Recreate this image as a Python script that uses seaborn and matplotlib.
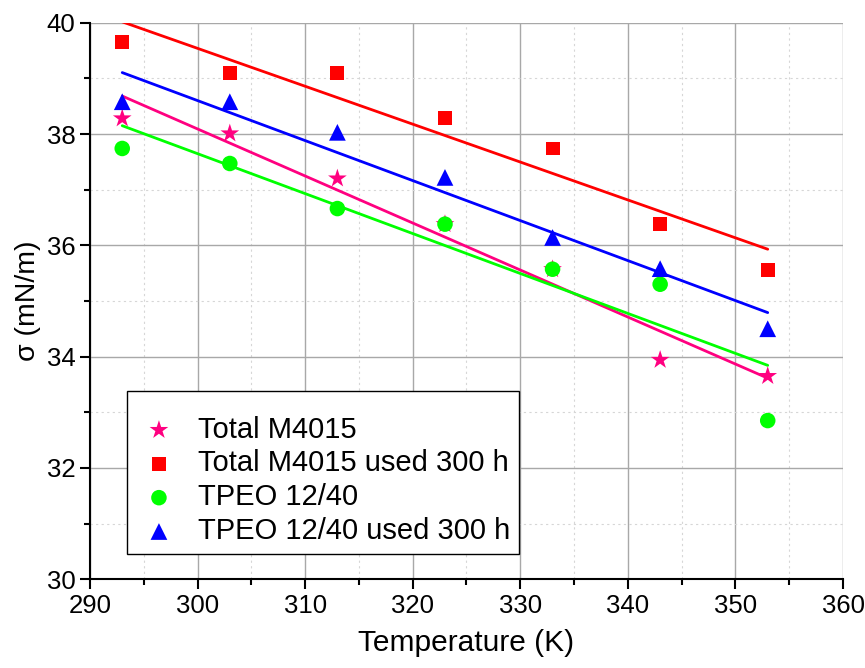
import numpy as np
import pandas as pd
import seaborn as sns
from matplotlib import pyplot as plt
from matplotlib.ticker import MultipleLocator

# values
temperature = [293, 303, 313, 323, 333, 343, 353]
total_m4015 = [38.28, 38.01, 37.20, 36.38, 35.57, 33.94, 33.65]
total_m4015_used = [39.65, 39.10, 39.10, 38.28, 37.74, 36.38, 35.56]
tpeo = [37.74, 37.47, 36.66, 36.38, 35.57, 35.30, 32.85]
tpeo_used = [38.58, 38.58, 38.03, 37.22, 36.14, 35.58, 34.50]

series = ['Total M4015', 'Total M4015 used 300 h', 'TPEO 12/40', 'TPEO 12/40 used 300 h']
values = [total_m4015, total_m4015_used, tpeo, tpeo_used]
colors = ['#FF0080', '#FF0000', '#00FF00', '#0000FF']
markers = ['*', 's', 'o', '^']
marker_sizes = [200, 100, 125, 145]

df = pd.concat([pd.DataFrame({'T': temperature, 'sigma': v, 'series': name})
                for name, v in zip(series, values)], ignore_index=True)

sns.set_style('ticks')
plt.rcParams['font.family'] = ['Liberation Sans', 'DejaVu Sans']
plt.rcParams.update({'text.color': 'black', 'axes.labelcolor': 'black',
                     'xtick.color': 'black', 'ytick.color': 'black',
                     'axes.edgecolor': 'black'})

fig = plt.figure(figsize=(8.65, 6.68), dpi=100)
ax = fig.add_axes([0.104, 0.133, 0.8706, 0.833])

# regression lines first, then the points
for name, c in zip(series, colors):
    sub = df[df['series'] == name]
    sns.regplot(data=sub, x='T', y='sigma', ci=None, scatter=False, color=c,
                line_kws=dict(lw=2.0), ax=ax)
for name, c, m, s in zip(series, colors, markers, marker_sizes):
    sub = df[df['series'] == name]
    sns.scatterplot(data=sub, x='T', y='sigma', marker=m, color=c, s=s,
                    edgecolor='none', label=name, ax=ax, zorder=3)

ax.set_xlim(290, 360)
ax.set_ylim(30, 40)
ax.xaxis.set_major_locator(MultipleLocator(10))
ax.xaxis.set_minor_locator(MultipleLocator(5))
ax.yaxis.set_major_locator(MultipleLocator(2))
ax.yaxis.set_minor_locator(MultipleLocator(1))
ax.grid(which='major', color='#a8a8a8', lw=1.0)
ax.grid(which='minor', color='#d6d6d6', lw=0.8, ls=(0, (2, 3)))
ax.set_axisbelow(True)

for side in ['top', 'right']:
    ax.spines[side].set_visible(False)
for side in ['left', 'bottom']:
    ax.spines[side].set_linewidth(1.5)
ax.tick_params(which='major', direction='out', length=7, width=1.5, labelsize=18.5)
ax.tick_params(which='minor', direction='out', length=4, width=1.5)

ax.set_xlabel('Temperature (K)', fontsize=21.5, labelpad=8)
ax.set_ylabel('σ (mN/m)', fontsize=20.5, labelpad=4)

leg = ax.legend(loc='upper left', bbox_to_anchor=(0.049, 0.338), fontsize=21,
                frameon=True, fancybox=False, framealpha=1, edgecolor='black',
                borderaxespad=0, handlelength=1.6, handletextpad=0.55,
                labelspacing=0.2, borderpad=0.3, title=' ', title_fontsize=7)
leg.get_frame().set_linewidth(1.0)

fig.savefig('out.png', dpi=100)
